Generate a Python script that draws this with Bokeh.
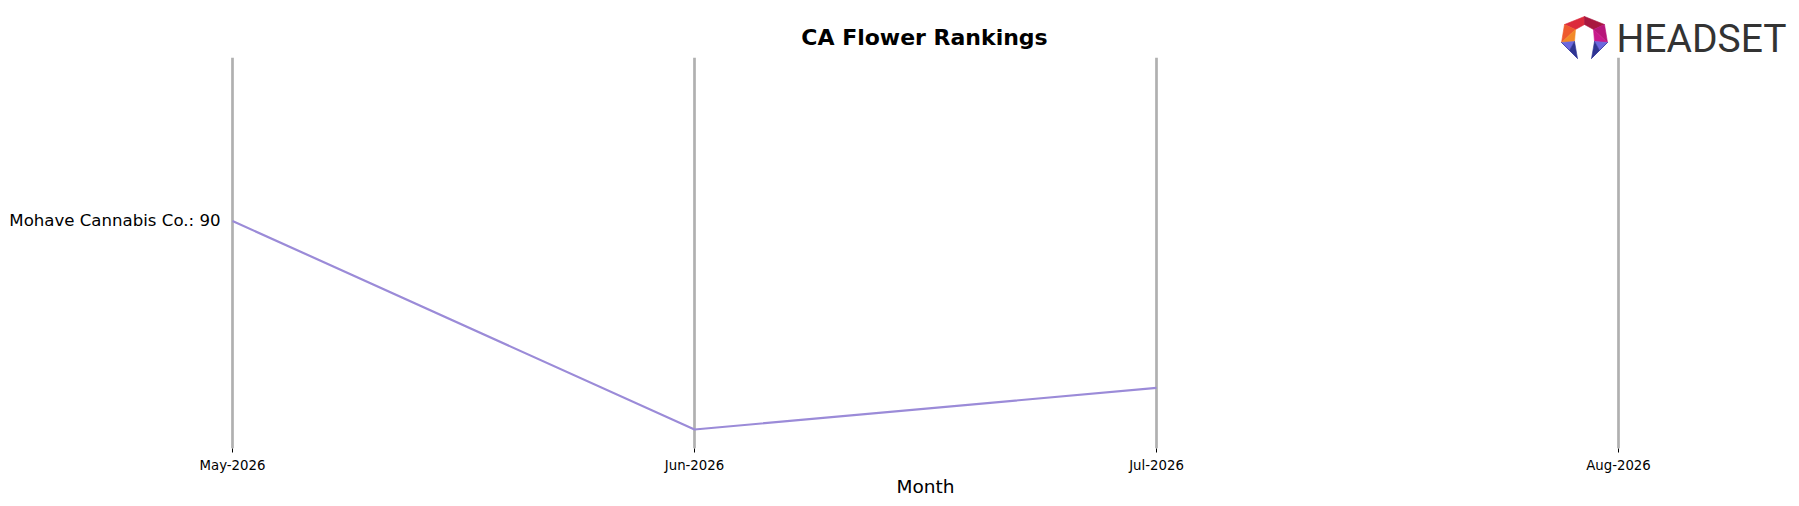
from bokeh.plotting import figure
from bokeh.models import Range1d, FixedTicker
from bokeh.layouts import column
from bokeh.core.properties import value
from bokeh.embed import file_html
from bokeh.resources import INLINE

# ---- data ----
months = ["May-2026", "Jun-2026", "Jul-2026", "Aug-2026"]
brand = "Mohave Cannabis Co."
rank_month_idx = [0, 1, 2]
ranks = [90, 110, 106]

TITLE = "CA Flower Rankings"
LINE_COLOR = "#9b8bd8"

HEADER_H = 70
OVERLAP = HEADER_H - 57

# ---- header strip (title + logo), data units == page pixels ----
top = figure(width=1799, height=HEADER_H, x_range=Range1d(0, 1799),
             y_range=Range1d(HEADER_H, 0),
             x_axis_location=None, y_axis_location=None, toolbar_location=None,
             output_backend="svg", min_border=0, outline_line_color=None,
             margin=(0, 0, -OVERLAP, 0))
top.frame_align = False
top.grid.visible = False

top.text(x=[924], y=[37], text=[TITLE], text_font=value("DejaVu Sans"),
         text_font_style="bold", text_font_size="22px", text_align="center",
         text_baseline="alphabetic", text_color="#000000")

# logo icon facets (decoration)
dy = 2
T, UL, UR = (1584, 14 + dy), (1564, 22 + dy), (1604, 22 + dy)
ML, MR = (1561, 40 + dy), (1607, 40 + dy)
iT, iUL, iUR = (1584, 22 + dy), (1575, 27 + dy), (1593, 27 + dy)
iML, iMR = (1574, 39 + dy), (1594, 39 + dy)
mL, mR = (1569, 48 + dy), (1599, 48 + dy)
BL, BR = (1577, 58), (1591, 58)
facets = [
    ([T, UL, iUL, iT], "#dc2a3c"),
    ([T, iT, iUR, UR], "#a8173f"),
    ([UL, ML, iUL], "#ee5a2e"),
    ([ML, iML, iUL], "#f28a28"),
    ([UR, iUR, MR], "#b8167a"),
    ([MR, iUR, iMR], "#c8198c"),
    ([ML, iML, mL], "#6c68de"),
    ([mL, iML, BL], "#2f3592"),
    ([ML, mL, BL], "#3a3fa4"),
    ([MR, iMR, mR], "#6c68de"),
    ([mR, iMR, BR], "#2f3592"),
    ([MR, mR, BR], "#3a3fa4"),
]
top.patches(xs=[[q[0] for q in f] for f, _ in facets],
            ys=[[q[1] for q in f] for f, _ in facets],
            fill_color=[c for _, c in facets], line_color=[c for _, c in facets],
            line_width=0.6)
top.text(x=[1616], y=[38], text=["HEADSET"], text_font=value("Roboto"),
         text_font_size="39px", text_color="#333333", text_baseline="alphabetic")

# ---- main chart ----
p = figure(width=1799, height=449, x_range=Range1d(-0.00433, 3.00433),
           y_range=Range1d(111.82, 74.32),
           toolbar_location=None, output_backend="svg",
           min_border_left=230, min_border_right=179, min_border_top=0,
           min_border_bottom=58, outline_line_color=None)
p.frame_align = False
p.border_fill_color = None
p.background_fill_color = None

ticker = FixedTicker(ticks=list(range(len(months))))
p.xaxis.ticker = ticker
p.xaxis.major_label_overrides = {i: m for i, m in enumerate(months)}
p.xaxis.axis_line_color = None
p.xaxis.major_tick_in = 0
p.xaxis.major_tick_out = 4
p.xaxis.major_tick_line_color = "#000000"
p.xaxis.minor_tick_line_color = None
p.xaxis.major_label_text_font = "DejaVu Sans"
p.xaxis.major_label_text_font_size = "13.3px"
p.xaxis.major_label_text_color = "#000000"
p.xaxis.major_label_standoff = 5
p.xaxis.axis_label = "Month"
p.xaxis.axis_label_text_font = "DejaVu Sans"
p.xaxis.axis_label_text_font_size = "18.5px"
p.xaxis.axis_label_text_font_style = "normal"
p.xaxis.axis_label_text_color = "#000000"
p.xaxis.axis_label_standoff = 0

# left axis carries the brand label at its first rank
p.yaxis.ticker = FixedTicker(ticks=[ranks[0]])
p.yaxis.major_label_overrides = {ranks[0]: f"{brand}: {ranks[0]}"}
p.yaxis.axis_line_color = None
p.yaxis.major_tick_line_color = None
p.yaxis.minor_tick_line_color = None
p.yaxis.major_tick_in = 0
p.yaxis.major_tick_out = 0
p.yaxis.major_label_standoff = 10
p.yaxis.major_label_text_font = "DejaVu Sans"
p.yaxis.major_label_text_font_size = "16.6px"
p.yaxis.major_label_text_color = "#000000"

p.xgrid.ticker = ticker
p.xgrid.grid_line_color = "#b0b0b0"
p.xgrid.grid_line_width = 2.7
p.ygrid.visible = False

p.line(x=rank_month_idx, y=ranks, line_color=LINE_COLOR, line_width=2.2)

layout = column(top, p, spacing=0)
open("out.html", "w").write(file_html(layout, INLINE))
